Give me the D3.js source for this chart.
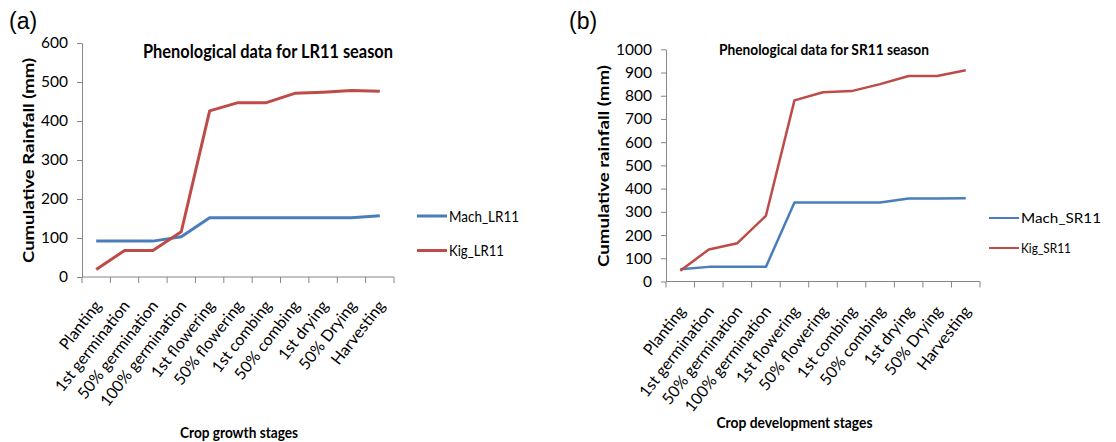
<!DOCTYPE html>
<html>
<head>
<meta charset="utf-8">
<script src="https://cdn.jsdelivr.net/npm/d3@7"></script>
<style>
  html, body { margin: 0; padding: 0; background: #fff; }
  svg { display: block; }
  text { font-family: Lato, "Open Sans", sans-serif; fill: #000; }
</style>
</head>
<body>
<svg id="chart" width="1116" height="442"></svg>
<script>
// ---- data ----
const stages = ["Planting", "1st germination", "50% germination", "100% germination",
  "1st flowering", "50% flowering", "1st combing", "50% combing", "1st drying",
  "50% Drying", "Harvesting"];
const machLR11 = [92, 92, 92, 103, 152, 152, 152, 152, 152, 152, 157];
const kigLR11  = [19, 68, 68, 116, 426, 447, 447, 471, 474, 478, 476];
const machSR11 = [53, 63, 63, 63, 340, 340, 340, 340, 357, 357, 358];
const kigSR11  = [46, 138, 165, 283, 780, 815, 820, 850, 885, 885, 910];
const ticksLR = [0, 100, 200, 300, 400, 500, 600];
const ticksSR = [0, 100, 200, 300, 400, 500, 600, 700, 800, 900, 1000];
const seriesLR = ["Mach_LR11", "Kig_LR11"];
const seriesSR = ["Mach_SR11", "Kig_SR11"];

const BLUE = "#4a7ebb", RED = "#be4b48", AXIS = "#868686";
const svg = d3.select("#chart");

function panel(cfg) {
  const g = svg.append("g");
  const x = d3.scaleBand().domain(stages).range([cfg.x0, cfg.x1]);
  const y = d3.scaleLinear().domain([0, cfg.ymax]).range([cfg.y0, cfg.ytop]);
  const cx = d => x(d) + x.bandwidth() / 2;

  // y axis
  const ya = g.append("g").attr("transform", `translate(${cfg.x0},0)`)
    .call(d3.axisLeft(y).tickValues(cfg.ticks).tickFormat(d3.format("d"))
      .tickSize(5).tickPadding(cfg.tickPad).tickSizeOuter(0));
  ya.select(".domain").attr("stroke", AXIS);
  ya.selectAll(".tick line").attr("stroke", AXIS);
  ya.selectAll(".tick text").style("font-size", "15.5px").attr("fill", "#000");

  // x axis line and boundary ticks
  g.append("line").attr("x1", cfg.x0).attr("x2", cfg.x1)
    .attr("y1", cfg.y0).attr("y2", cfg.y0).attr("stroke", AXIS);
  const bounds = stages.map(d => x(d)).concat([cfg.x1]);
  g.selectAll(".xt").data(bounds).join("line")
    .attr("x1", d => d).attr("x2", d => d)
    .attr("y1", cfg.y0).attr("y2", cfg.y0 + 6).attr("stroke", AXIS);

  // category labels
  g.selectAll(".xl").data(stages).join("text")
    .attr("text-anchor", "end")
    .attr("transform", d => `translate(${cx(d) + 6},${cfg.y0 + cfg.labOff}) rotate(-52)`)
    .style("font-size", "16px")
    .text(d => d);

  // lines
  const line = d3.line().x((d, i) => cx(stages[i])).y(d => y(d));
  cfg.series.forEach(s => {
    g.append("path").datum(s.values)
      .attr("fill", "none").attr("stroke", s.color)
      .attr("stroke-width", cfg.lw).attr("stroke-linejoin", "round")
      .attr("d", line);
  });

  // legend
  cfg.series.forEach((s, k) => {
    const ly = cfg.legY[k];
    g.append("line").attr("x1", cfg.legX).attr("x2", cfg.legX + 30)
      .attr("y1", ly).attr("y2", ly).attr("stroke", s.color).attr("stroke-width", cfg.legLw);
    g.append("text").attr("x", cfg.legX + 32).attr("y", ly).attr("dy", "0.35em")
      .style("font-size", cfg.legFs + "px")
      .attr("textLength", s.tl).attr("lengthAdjust", "spacingAndGlyphs")
      .text(s.name);
  });

  // titles
  g.append("text").attr("x", cfg.title.x).attr("y", cfg.title.y).attr("dy", "0.35em")
    .attr("text-anchor", "middle").style("font-size", cfg.title.fs + "px").style("font-weight", "bold")
    .attr("textLength", cfg.title.tl).attr("lengthAdjust", "spacingAndGlyphs")
    .text(cfg.title.text);
  g.append("text")
    .attr("transform", `translate(${cfg.ytitle.x},${cfg.ytitle.y}) rotate(-90)`)
    .attr("dy", "0.35em").attr("text-anchor", "middle")
    .style("font-size", "16px").style("font-weight", "bold")
    .attr("textLength", cfg.ytitle.tl).attr("lengthAdjust", "spacingAndGlyphs")
    .text(cfg.ytitle.text);
  g.append("text").attr("x", cfg.xtitle.x).attr("y", cfg.xtitle.y).attr("dy", "0.35em")
    .attr("text-anchor", "middle").style("font-size", "16px").style("font-weight", "bold")
    .attr("textLength", cfg.xtitle.tl).attr("lengthAdjust", "spacingAndGlyphs")
    .text(cfg.xtitle.text);
  // panel letter
  g.append("text").attr("x", cfg.letter.x).attr("y", cfg.letter.y)
    .style("font-family", "'Liberation Sans', Arial, sans-serif").style("font-size", "23px")
    .text(cfg.letter.text);
}

panel({
  x0: 82, x1: 394, y0: 277, ytop: 43, ymax: 600, ticks: ticksLR, tickPad: 9,
  labOff: 29, lw: 3, legX: 417, legY: [216, 250.5], legLw: 3, legFs: 16,
  series: [
    { name: seriesLR[0], values: machLR11, color: BLUE, tl: 70 },
    { name: seriesLR[1], values: kigLR11, color: RED, tl: 55 }
  ],
  title: { text: "Phenological data for LR11 season", x: 268, y: 52, fs: 18, tl: 250 },
  ytitle: { text: "Cumulative Rainfall (mm)", x: 28, y: 160.5, tl: 205 },
  xtitle: { text: "Crop growth stages", x: 239, y: 432, tl: 118 },
  letter: { text: "(a)", x: 9, y: 29 }
});

panel({
  x0: 666, x1: 980, y0: 281.5, ytop: 49.3, ymax: 1000, ticks: ticksSR, tickPad: 9,
  labOff: 30, lw: 2.5, legX: 989, legY: [218, 248], legLw: 2, legFs: 14,
  series: [
    { name: seriesSR[0], values: machSR11, color: BLUE, tl: 80 },
    { name: seriesSR[1], values: kigSR11, color: RED, tl: 50 }
  ],
  title: { text: "Phenological data for SR11 season", x: 824, y: 49, fs: 16, tl: 210 },
  ytitle: { text: "Cumulative rainfall (mm)", x: 603, y: 166, tl: 202 },
  xtitle: { text: "Crop development stages", x: 794.5, y: 422, tl: 156 },
  letter: { text: "(b)", x: 569, y: 29 }
});
</script>
</body>
</html>
